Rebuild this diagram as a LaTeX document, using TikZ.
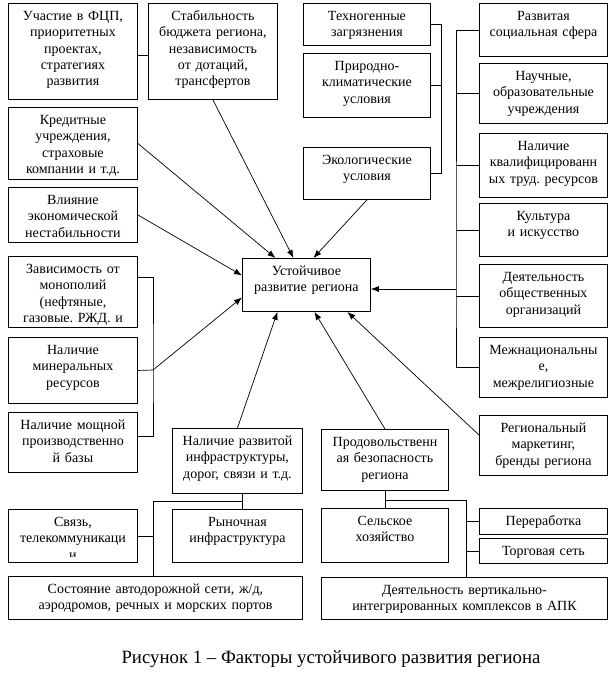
\documentclass[tikz,border=0pt]{standalone}
\usepackage{fontspec}
\setmainfont{Liberation Serif}
\usetikzlibrary{arrows.meta}
\frenchspacing
\begin{document}
\begin{tikzpicture}[x=1pt,y=-1pt,
box/.style={draw, line width=0.9pt, anchor=north west, align=center, inner sep=0pt, text height=17pt, font=\fontsize{14}{16.3}\selectfont},
line/.style={line width=0.7pt},
arr/.style={line width=0.7pt, -{Latex[length=8pt,width=6pt]}}]
\useasboundingbox (0,0) rectangle (613,675);
\node(1) at (8,3) [box, text width=129pt, text depth=79pt]{Участие в ФЦП,\\приоритетных\\проектах,\\стратегиях\\развития};
\node(2) at (148,3) [box, text width=129pt, text depth=79pt]{Стабильность\\бюджета региона,\\независимость\\от дотаций,\\трансфертов};
\node(3) at (8,107) [box, text width=129pt, text depth=55pt]{Кредитные\\учреждения,\\страховые\\компании и т.д.};
\node(4) at (8,187) [box, text width=129pt, text depth=38pt]{Влияние\\экономической\\нестабильности};
\node(5) at (8,256) [box, text width=129pt, text depth=54pt]{Зависимость от\\монополий\\(нефтяные,\\газовые. РЖД. и};
\node(6) at (8,337) [box, text width=129pt, text depth=49pt]{Наличие\\минеральных\\ресурсов};
\node(7) at (8,412) [box, text width=129pt, text depth=43pt]{Наличие мощной\\производственно\\й базы};
\node(8) at (8,509) [box, text width=129pt, text depth=36pt, path picture={\clip (path picture bounding box.north west) rectangle ([yshift=5.5pt]path picture bounding box.south east); \node[anchor=base, font=\fontsize{14}{16.3}\selectfont] at ([yshift=3.4pt]path picture bounding box.south){и};}]{Связь,\\телекоммуникаци};
\node(9) at (8,576) [box, text width=294pt, text depth=26pt]{Состояние автодорожной сети, ж/д,\\аэродромов, речных и морских портов};
\node(10) at (303,3) [box, text width=127pt, text depth=25pt]{Техногенные\\загрязнения};
\node(11) at (303,53) [box, text width=127pt, text depth=47pt]{Природно-\\климатические\\условия};
\node(12) at (303,147) [box, text width=127pt, text depth=35pt]{Экологические\\условия};
\node(13) at (242,258) [box, text width=128pt, text depth=36pt]{Устойчивое\\развитие региона};
\node(14) at (479,3) [box, text width=128pt, text depth=36pt]{Развитая\\социальная сфера};
\node(15) at (479,63) [box, text width=128pt, text depth=43pt]{Научные,\\образовательные\\учреждения};
\node(16) at (479,133) [box, text width=128pt, text depth=47pt]{Наличие\\квалифицированн\\ых труд. ресурсов};
\node(17) at (479,203) [box, text width=128pt, text depth=36pt]{Культура\\и искусство};
\node(18) at (479,264) [box, text width=128pt, text depth=46pt]{Деятельность\\общественных\\организаций};
\node(19) at (479,337) [box, text width=128pt, text depth=43pt]{Межнациональны\\е,\\межрелигиозные};
\node(20) at (479,415) [box, text width=128pt, text depth=43pt]{Региональный\\маркетинг,\\бренды региона};
\node(21) at (172,428) [box, text width=130pt, text depth=48pt]{Наличие развитой\\инфраструктуры,\\дорог, связи и т.д.};
\node(22) at (172,509) [box, text width=130pt, text depth=36pt]{Рыночная\\инфраструктура};
\node(23) at (321,429) [box, text width=127pt, text depth=44pt]{Продовольственн\\ая безопасность\\региона};
\node(24) at (321,508) [box, text width=127pt, text depth=37pt]{Сельское\\хозяйство};
\node(25) at (479,508) [box, text width=128pt, text depth=9pt]{Переработка};
\node(26) at (479,538) [box, text width=128pt, text depth=8pt]{Торговая сеть};
\node(27) at (321,577) [box, text width=286pt, text depth=25pt]{Деятельность вертикально-\\интегрированных комплексов в АПК};
\node(28) at (331,663) [anchor=base, font=\fontsize{18.8}{22}\selectfont]{Рисунок 1 – Факторы устойчивого развития региона};
\coordinate(29) at (153,370);
\coordinate(30) at (456,289);
\coordinate(31) at (242,501);
\coordinate(32) at (153,501);
\coordinate(33) at (466,500);
\draw[line] ([yshift=-4pt]1.east) -- ([yshift=-4pt]2.west);
\draw[line] (10.east) -- ++(10,0) |- (12.east);
\draw[line] (11.east) -- ++(10,0);
\draw[line] ([yshift=15pt]5.east) -| (29) |- ([yshift=6pt]7.east);
\draw[line] (6.east) -- (29);
\draw[line] (14.west) -| (30) |- (19.west);
\draw[line] (15.west) -- (15.west -| 30);
\draw[line] (16.west) -- (16.west -| 30);
\draw[line] (17.west) -- (17.west -| 30);
\draw[line] (18.west) -- (18.west -| 30);
\draw[line] (31 |- 21.south) -- (31 |- 22.north);
\draw[line] (31) -- (32) -- (32 |- 9.north);
\draw[line] (8.east) -- (8.east -| 32);
\draw[line] (23.south) -- (24.north);
\draw[line] (23.south |- 33) -- (33) -- (33 |- 27.north);
\draw[line] (25.west) -- (25.west -| 33);
\draw[line] (26.west) -- (26.west -| 33);
\draw[arr] (3.east) -- ([xshift=-31pt]13.north);
\draw[arr] (2.south) -- ([xshift=-13pt]13.north);
\draw[arr] (12.south) -- ([xshift=7pt]13.north);
\draw[arr] (4.east) -- ([yshift=9.5pt]13.west);
\draw[arr] (29) -- ([yshift=-12.5pt]13.west);
\draw[arr] (30) -- (30 -| 13.east);
\draw[arr] (21.north) -- ([xshift=-29pt]13.south);
\draw[arr] (23.north) -- ([xshift=8pt]13.south);
\draw[arr] ([yshift=-20pt]20.north west) -- ([xshift=41pt]13.south);
\end{tikzpicture}
\end{document}
